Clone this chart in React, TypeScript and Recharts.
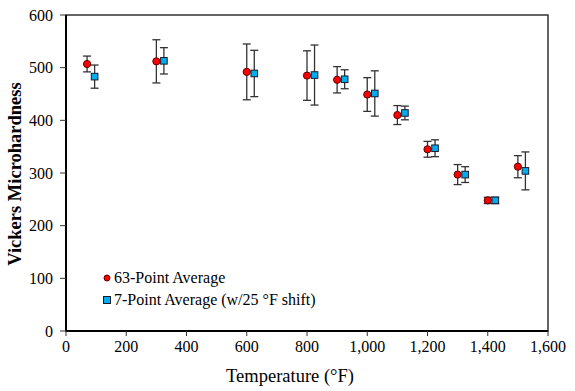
import { ErrorBar, Legend, ReferenceArea, Scatter, ScatterChart, XAxis, YAxis } from "recharts";

const temps63 = [70, 300, 600, 800, 900, 1000, 1100, 1200, 1300, 1400, 1500];
const hv63 = [507, 512, 492, 485, 477, 449, 410, 345, 297, 248, 312];
const err63 = [15, 41, 53, 47, 25, 32, 18, 15, 19, 6, 21];

// 7-point series is plotted 25 °F to the right
const temps7 = [95, 325, 625, 825, 925, 1025, 1125, 1225, 1325, 1425, 1525];
const hv7 = [483, 513, 489, 486, 478, 451, 414, 347, 297, 248, 304];
const err7 = [22, 25, 44, 57, 18, 43, 13, 16, 15, 6, 36];

const xTicks = [0, 200, 400, 600, 800, 1000, 1200, 1400, 1600];
const yTicks = [0, 100, 200, 300, 400, 500, 600];

const series63 = temps63.map((t, i) => ({ temp: t, hv: hv63[i], err: err63[i] }));
const series7 = temps7.map((t, i) => ({ temp: t, hv: hv7[i], err: err7[i] }));

const font = "Liberation Serif";
const RED = "#ff0000";
const BLUE = "#00aeef";

const RedDot = (props: any) => (
  <circle cx={props.cx} cy={props.cy} r={3.6} fill={RED} stroke="#5a0000" strokeWidth={1} />
);

const BlueSquare = (props: any) => (
  <rect x={props.cx - 3.3} y={props.cy - 3.3} width={6.6} height={6.6} fill={BLUE} stroke="#1a1a2e" strokeWidth={1} />
);

function LegendBox() {
  const rows = [
    { label: "63-Point Average", kind: "dot" },
    { label: "7-Point Average (w/25 °F shift)", kind: "square" },
  ];
  return (
    <div style={{ fontFamily: font, fontSize: 16, color: "#000" }}>
      {rows.map((r) => (
        <div key={r.label} style={{ display: "flex", alignItems: "center", height: 22 }}>
          <svg width={10} height={10} style={{ marginRight: 2 }}>
            {r.kind === "dot" ? (
              <circle cx={5} cy={5} r={3} fill={RED} stroke="#5a0000" strokeWidth={1} />
            ) : (
              <rect x={1.5} y={1.5} width={7} height={7} fill={BLUE} stroke="#1a1a2e" strokeWidth={1} />
            )}
          </svg>
          <span>{r.label}</span>
        </div>
      ))}
    </div>
  );
}

export default function App() {
  return (
    <div style={{ position: "absolute", left: 0, top: 0, background: "#fff", fontFamily: font }}>
      <ScatterChart width={575} height={391} margin={{ top: 15, right: 27, bottom: 10, left: 6 }} style={{ fontFamily: font }}>
        <ReferenceArea x1={0} x2={1600} y1={0} y2={600} fill="none" stroke="#333" strokeWidth={1.5} />
        <XAxis
          type="number"
          dataKey="temp"
          domain={[0, 1600]}
          ticks={xTicks}
          interval={0}
          height={50}
          tickSize={5}
          tickMargin={5}
          tickFormatter={(v) => Number(v).toLocaleString("en-US")}
          axisLine={{ stroke: "#000", strokeWidth: 2 }}
          tickLine={{ stroke: "#333" }}
          tick={{ fill: "#000", fontFamily: font, fontSize: 16 }}
          label={{ value: "Temperature (°F)", position: "insideBottom", offset: -1, dx: -17, fill: "#000", fontFamily: font, fontSize: 18.5 }}
        />
        <YAxis
          type="number"
          dataKey="hv"
          domain={[0, 600]}
          ticks={yTicks}
          interval={0}
          width={60}
          tickSize={6}
          tickMargin={7}
          axisLine={{ stroke: "#000", strokeWidth: 2 }}
          tickLine={{ stroke: "#333" }}
          tick={{ fill: "#000", fontFamily: font, fontSize: 16 }}
          label={{ value: "Vickers Microhardness", angle: -90, position: "center", dx: -22, dy: 1, fill: "#000", fontFamily: font, fontSize: 18.5, fontWeight: "bold" }}
        />
        <Legend
          layout="vertical"
          align="center"
          verticalAlign="middle"
          content={() => <LegendBox />}
          wrapperStyle={{ position: "absolute", left: 102, top: 267, width: 270 }}
        />
        <Scatter name="63-Point Average" data={series63} shape={RedDot} isAnimationActive={false}>
          <ErrorBar dataKey="err" direction="y" width={4} stroke="#333" strokeWidth={1.3} />
        </Scatter>
        <Scatter name="7-Point Average (w/25 °F shift)" data={series7} shape={BlueSquare} isAnimationActive={false}>
          <ErrorBar dataKey="err" direction="y" width={4} stroke="#333" strokeWidth={1.3} />
        </Scatter>
      </ScatterChart>
    </div>
  );
}
